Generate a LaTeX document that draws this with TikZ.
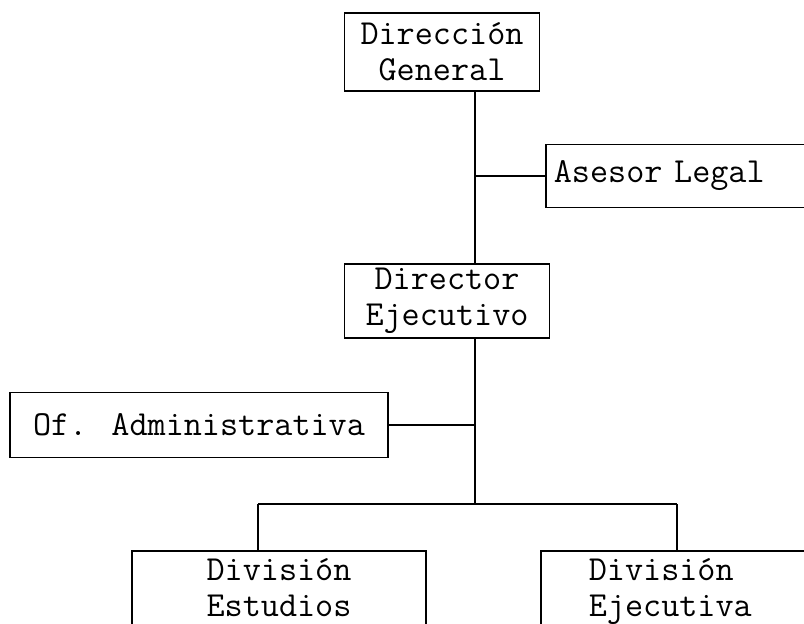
\documentclass[tikz,border=0pt]{standalone}
\usetikzlibrary{positioning}
\begin{document}
\begin{tikzpicture}[x=0.025cm,y=-0.025cm,
    box/.style={draw,line width=1.2pt,rectangle,inner sep=0pt,align=center,
      font=\ttfamily\fontsize{25}{25.5}\selectfont},
    link/.style={line width=1.5pt}]
      \useasboundingbox (0,0) rectangle (804,624);
      \node (dirgen) at (442,52) [box,minimum width=4.875cm,minimum height=1.95cm] {Dirección\\General};
      \node (asesor) at (545,176) [box,anchor=west,align=left,text width=7cm,inner xsep=0.2cm,minimum height=1.575cm] {Asesor Legal};
      \node (direj) at (447,301) [box,minimum width=5.125cm,minimum height=1.85cm] {Director\\Ejecutivo};
      \node (ofadm) at (199,425) [box,minimum width=9.45cm,minimum height=1.625cm] {Of. Administrativa};
      \node (divest) at (279,550) [box,anchor=north,minimum width=7.35cm,inner ysep=0.2cm,text depth=2cm] {División\\Estudios};
      \node (divej) at (540,550) [box,anchor=north west,align=left,text width=7cm,inner xsep=1.2cm,inner ysep=0.2cm,text depth=2cm] {División\\Ejecutiva};
      \coordinate (trunk) at (475,0);
      \coordinate (bus) at (475,504);
      \coordinate (busl) at (258,504);
      \coordinate (busr) at (677,504);
      \draw [link](dirgen.south -| trunk)--(direj.north -| trunk);
      \draw [link](asesor.west)--(asesor.west -| trunk);
      \draw [link](direj.south -| trunk)--(bus);
      \draw [link](ofadm.east)--(ofadm.east -| trunk);
      \draw [link](busl)--(busr);
      \draw [link](busl)--(divest.north -| busl);
      \draw [link](busr)--(divej.north -| busr);
\end{tikzpicture}
\end{document}
